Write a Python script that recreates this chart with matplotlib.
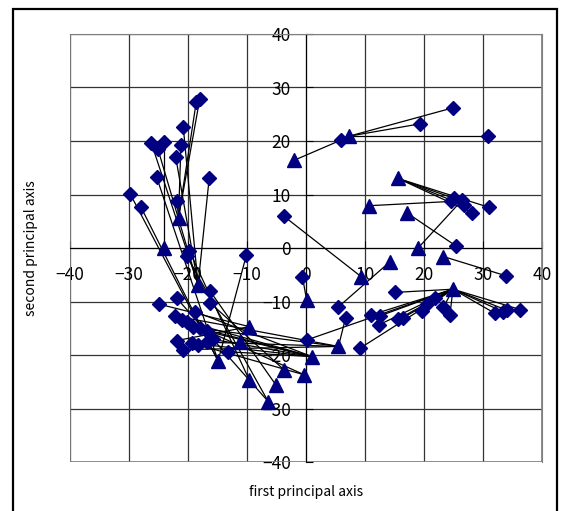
import numpy as np
import matplotlib
matplotlib.use('Agg')
import matplotlib.pyplot as plt
from matplotlib.patches import Rectangle

plt.rcParams['font.family'] = ['Noto Sans CJK JP', 'DejaVu Sans']

# triangle positions (group centres)
tri_x = [-2.0, 7.3, 15.6, 10.6, 19.0, 17.2, 23.3, 9.4, 14.2, 24.9, 0.1, 5.5,
         1.0, -0.3, -3.7, -5.1, -6.4, -9.6, -9.6, -14.9, -18.3, -24.1, -21.6, -11.2]
tri_y = [16.4, 20.9, 13.0, 7.9, 0.0, 6.5, -1.6, -5.4, -2.6, -7.7, -9.7, -18.4,
         -20.3, -23.7, -22.8, -25.6, -28.7, -24.7, -14.7, -21.1, -6.9, 0.0, 5.7, -17.5]

# diamond positions and the triangle each one is joined to
dia_x = [6.0, 24.9, 19.3, 30.8, 25.0, 26.7, 28.2, 31.0, 24.5, 26.5, 25.4, 33.9,
         -3.7, 5.4, 15.1, 32.0, 33.4, 34.0, 36.3, 23.3, 24.4, 21.9, 20.5, 19.6,
         16.5, 15.6, 12.5, 11.1, 12.3, 0.1, 9.2, -0.6, 6.7,
         -18.0, -18.6, -20.8, -21.2, -22.1, -21.9, -24.1, -26.2, -25.1, -25.3,
         -16.4, -29.8, -28.0, -19.8, -20.2, -10.1,
         -24.9, -21.9, -16.3, -16.2, -18.8, -22.2, -21.1, -20.2, -19.1, -18.0,
         -16.8, -15.7, -21.9, -20.8, -19.4, -18.3, -16.8, -13.2]
dia_y = [20.2, 26.2, 23.2, 20.9, 9.3, 8.0, 6.6, 7.6, 8.7, 9.0, 0.4, -5.2,
         5.9, -11.1, -8.3, -12.2, -11.9, -11.6, -11.5, -11.1, -12.5, -9.4, -10.5, -11.8,
         -13.0, -13.3, -12.7, -12.5, -14.4, -17.2, -18.7, -5.4, -13.1,
         27.9, 27.3, 22.6, 19.3, 17.1, 8.8, 19.9, 19.6, 18.5, 13.2,
         13.1, 10.1, 7.7, -0.5, -1.5, -1.3,
         -10.5, -9.4, -8.0, -10.3, -11.9, -12.7, -13.5, -13.8, -14.7, -15.0,
         -15.6, -17.1, -17.3, -19.0, -17.8, -18.1, -17.6, -19.4]
dia_link = [0, 1, 1, 1, 2, 2, 2, 2, 3, 4, 5, 6,
            7, 8, 9, 9, 9, 9, 9, 9, 9, 9, 9, 9,
            9, 9, 9, 9, 9, 9, 9, 10, 11,
            22, 22, 20, 22, 20, 22, 21, 20, 20, 19,
            20, 19, 19, 17, 16, 19,
            18, 16, 15, 14, 12, 11, 12, 13, 12, 11,
            12, 12, 18, 11, 12, 13, 11, 12]

ticks = [-40, -30, -20, -10, 0, 10, 20, 30, 40]

fig = plt.figure(figsize=(5.67, 5.11), dpi=100)
ax = fig.add_axes([70/567, 1 - 462/511, 472/567, 428/511])

# chart area frame
fig.patches.append(Rectangle((13/567, -0.02), 544/567, 1 - 9/511 + 0.02,
                             transform=fig.transFigure, fill=False,
                             edgecolor='black', linewidth=1.6))

for d in range(len(dia_x)):
    t = dia_link[d]
    ax.plot([dia_x[d], tri_x[t]], [dia_y[d], tri_y[t]], color='black',
            linewidth=0.9, zorder=2)

ax.plot(dia_x, dia_y, linestyle='none', marker='D', markersize=7.5,
        color='#000080', zorder=3)
ax.plot(tri_x, tri_y, linestyle='none', marker='^', markersize=9.5,
        color='#000080', zorder=4)

ax.set_xlim(-40, 40)
ax.set_ylim(-40, 40)
ax.set_xticks(ticks)
ax.set_yticks(ticks)
ax.set_xticklabels([str(v).replace('-', '\u2212') for v in ticks])
ax.set_yticklabels([str(v).replace('-', '\u2212') for v in ticks])

ax.spines['left'].set_position('zero')
ax.spines['bottom'].set_position('zero')
ax.spines['left'].set_zorder(1.5)
ax.spines['bottom'].set_zorder(1.5)
for s in ['top', 'right']:
    ax.spines[s].set_color('#808080')
ax.spines['left'].set_color('black')
ax.spines['bottom'].set_color('black')

ax.tick_params(axis='x', direction='in', length=5, labelsize=12.5, pad=13)
ax.tick_params(axis='y', direction='in', length=5, labelsize=12.5, pad=11)

ax.grid(True, color='#333333', linewidth=0.9, zorder=1)
ax.set_axisbelow(True)

# extra frame of the plot area
ax.add_patch(Rectangle((0, 0), 1, 1, transform=ax.transAxes, fill=False,
                       edgecolor='#808080', linewidth=1.2, zorder=1))

fig.text(306/567, 1 - 492/511, 'first principal axis', ha='center',
         va='center', fontsize=10)
fig.text(31/567, 1 - 248/511, 'second principal axis', ha='center',
         va='center', rotation=90, fontsize=10)

fig.savefig('out.png', dpi=100)
